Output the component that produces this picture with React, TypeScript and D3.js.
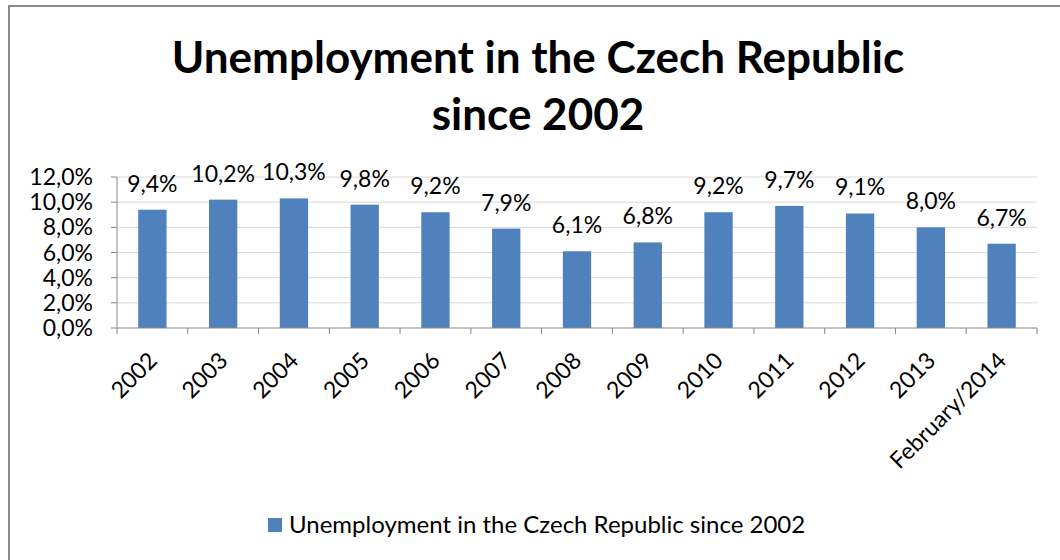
import React from "react";
import * as d3 from "d3";

const categories = ["2002", "2003", "2004", "2005", "2006", "2007", "2008", "2009", "2010", "2011", "2012", "2013", "February/2014"];
const values = [9.4, 10.2, 10.3, 9.8, 9.2, 7.9, 6.1, 6.8, 9.2, 9.7, 9.1, 8.0, 6.7];
const yTicks = [0, 2, 4, 6, 8, 10, 12];
const titleLines = ["Unemployment in the Czech Republic", "since 2002"];
const seriesName = "Unemployment in the Czech Republic since 2002";

const W = 1060;
const H = 560;
const FONT = "Lato, 'Open Sans', sans-serif";
const BAR = "#4F81BD";

export default function App() {
  const x = d3.scaleBand<string>().domain(categories).range([117, 1037]).paddingInner(0).paddingOuter(0);
  const y = d3.scaleLinear().domain([0, 12]).range([328, 177]);
  const fmt = (v: number) => d3.format(".1f")(v).replace(".", ",") + "%";
  const bw = x.bandwidth() * 0.4;

  return (
    <svg width={W} height={H} style={{ position: "absolute", left: 0, top: 0, background: "#fff" }}>
      <rect x={0} y={0} width={W} height={H} fill="#fff" />
      <rect x={9} y={6} width={W + 20} height={H + 20} fill="none" stroke="#898989" strokeWidth={2} />
      {titleLines.map((t, i) => (
        <text key={i} x={538} y={73 + i * 57} textAnchor="middle" fontFamily={FONT} fontWeight="bold" fontSize={44} fill="#000">
          {t}
        </text>
      ))}
      {yTicks.map((t) => (
        <g key={t}>
          {t > 0 && <line x1={117} x2={1037} y1={y(t)} y2={y(t)} stroke="#D9D9D9" strokeWidth={1} />}
          <line x1={111} x2={117} y1={y(t)} y2={y(t)} stroke="#868686" strokeWidth={1} />
          <text x={93} y={y(t) + 8} textAnchor="end" fontFamily={FONT} fontSize={23} fill="#000">
            {fmt(t)}
          </text>
        </g>
      ))}
      {categories.map((c, i) => {
        const cx = (x(c) as number) + x.bandwidth() / 2;
        return (
          <g key={c}>
            <rect x={cx - bw / 2} y={y(values[i])} width={bw} height={y(0) - y(values[i])} fill={BAR} />
            <text x={cx} y={y(values[i]) - 18} textAnchor="middle" fontFamily={FONT} fontSize={23} fill="#000">
              {fmt(values[i])}
            </text>
            <text transform={`translate(${cx + 6},${362}) rotate(-45)`} textAnchor="end" fontFamily={FONT} fontSize={23} fill="#000">
              {c}
            </text>
          </g>
        );
      })}
      <line x1={117} x2={117} y1={177} y2={328} stroke="#868686" strokeWidth={1} />
      <line x1={117} x2={1037} y1={328} y2={328} stroke="#868686" strokeWidth={1} />
      {[...categories, "end"].map((c, i) => {
        const xx = 117 + i * x.step();
        return <line key={"t" + i} x1={xx} x2={xx} y1={328} y2={334} stroke="#868686" strokeWidth={1} />;
      })}
      <rect x={268} y={518} width={14} height={14} fill={BAR} />
      <text x={289} y={533} fontFamily={FONT} fontSize={24} fill="#000">
        {seriesName}
      </text>
    </svg>
  );
}
